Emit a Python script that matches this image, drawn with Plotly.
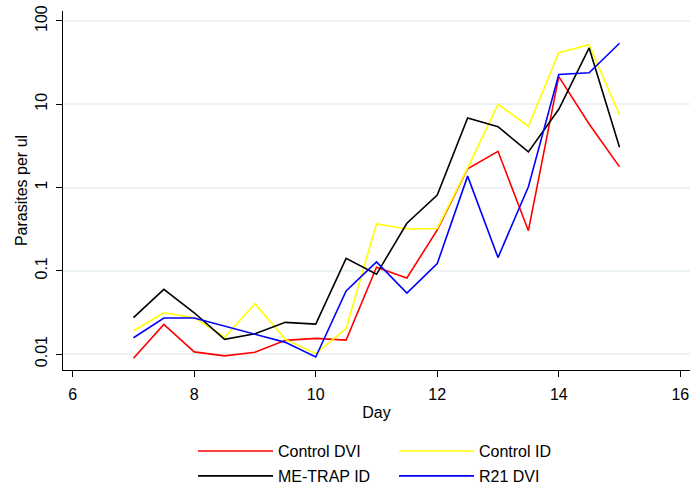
import plotly.graph_objects as go

# Sampling days (twice daily from day 7 to day 15)
days = [7, 7.5, 8, 8.5, 9, 9.5, 10, 10.5, 11, 11.5, 12, 12.5, 13, 13.5, 14, 14.5, 15]

# Geometric mean parasitaemia (parasites per microlitre) for each group
control_dvi = [0.0089, 0.0227, 0.0106, 0.0095, 0.0105, 0.0146, 0.0154, 0.0147, 0.110,
               0.082, 0.309, 1.68, 2.72, 0.303, 21.5, 5.8, 1.77]
control_id = [0.0190, 0.0313, 0.0273, 0.0159, 0.0402, 0.0150, 0.0101, 0.0202, 0.365,
              0.318, 0.322, 1.71, 10.0, 5.45, 41.6, 52.0, 7.43]
me_trap_id = [0.0273, 0.0598, 0.0313, 0.0150, 0.0175, 0.0240, 0.0229, 0.141, 0.0907,
              0.372, 0.813, 6.84, 5.38, 2.68, 8.7, 47.4, 3.05]
r21_dvi = [0.0157, 0.0271, 0.0271, 0.0217, 0.0175, 0.0138, 0.0092, 0.0571, 0.128,
           0.054, 0.122, 1.37, 0.144, 1.02, 22.8, 23.9, 54.0]

x_ticks = [6, 8, 10, 12, 14, 16]
y_ticks = [0.01, 0.1, 1, 10, 100]
y_tick_text = ["0.01", "0.1", "1", "10", "100"]

series = [
    ("Control DVI", control_dvi, "#ff0000", "legend"),
    ("Control ID", control_id, "#ffff00", "legend"),
    ("ME-TRAP ID", me_trap_id, "#000000", "legend2"),
    ("R21 DVI", r21_dvi, "#0000ff", "legend2"),
]

fig = go.Figure()
for name, vals, color, leg in series:
    fig.add_trace(go.Scatter(
        x=days, y=vals, name=name, mode="lines",
        line=dict(color=color, width=1.6),
        legend=leg,
    ))

font = dict(family="Liberation Sans, Arial, sans-serif", size=16, color="#000000")

legend_common = dict(
    orientation="h", xanchor="left", yanchor="middle",
    xref="container", yref="container",
    font=dict(family="Liberation Sans, Arial, sans-serif", size=16, color="#000000"),
    entrywidth=111, entrywidthmode="pixels",
    bgcolor="rgba(0,0,0,0)", itemwidth=75, tracegroupgap=0,
)

fig.update_layout(
    width=692, height=484,
    margin=dict(l=63, r=2, t=11, b=114, autoexpand=False),
    paper_bgcolor="white", plot_bgcolor="white",
    font=font,
    showlegend=True,
    legend=dict(x=0.2789, y=0.068, **legend_common),
    legend2=dict(x=0.2789, y=0.0166, **legend_common),
    xaxis=dict(
        title=dict(text="Day", font=font, standoff=4),
        range=[5.84, 16.16],
        tickvals=x_ticks, ticks="outside", ticklen=6, tickcolor="#000000",
        ticklabelstandoff=4,
        showline=True, linecolor="#000000", linewidth=1,
        showgrid=False, zeroline=False, automargin=False,
        tickfont=font,
    ),
    yaxis=dict(
        title=dict(text="Parasites per ul", font=font, standoff=0),
        type="log", range=[-2.192, 2.12],
        tickvals=y_ticks, ticktext=y_tick_text, tickangle=-90,
        ticks="outside", ticklen=6, tickcolor="#000000",
        ticklabelstandoff=3,
        showline=True, linecolor="#000000", linewidth=1,
        showgrid=True, gridcolor="#eaf2f3", gridwidth=1.5,
        zeroline=False, automargin=False, tickfont=font,
    ),
)

fig.write_html("out.html")
